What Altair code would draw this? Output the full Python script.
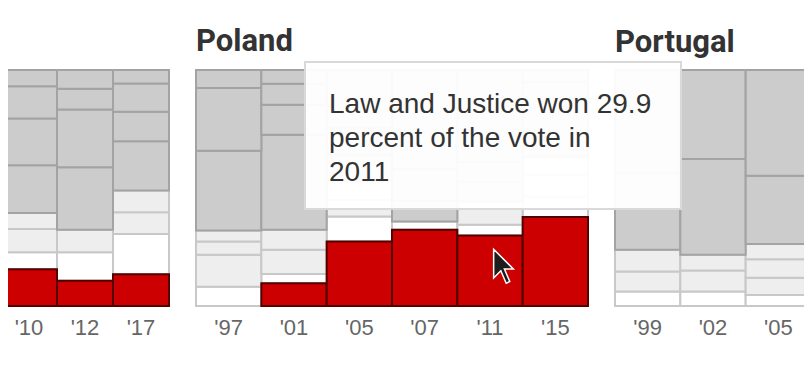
import altair as alt
import pandas as pd

# ---- data -----------------------------------------------------------------
kinds = ["populist", "others", "small", "large"]
kind_fill = ["#cc0000", "#ffffff", "#eeeeee", "#cccccc"]
kind_stroke = ["#520000", "#c8c8c8", "#c8c8c8", "#a3a3a3"]
draw_rank = {"others": 0, "small": 1, "large": 2, "populist": 3}

# Netherlands (panel cut off at the left edge, title not visible)
nl_years = ["'10", "'12", "'17"]
nl_kinds = [
    ["populist", "others", "small", "small", "large", "large", "large", "large"],
    ["populist", "others", "small", "large", "large", "large", "large"],
    ["populist", "others", "small", "small", "large", "large", "large", "large"],
]
nl_shares = [
    [15.6, 7.2, 9.8, 6.8, 20.2, 19.8, 13.7, 6.9],
    [10.7, 12.1, 9.5, 26.5, 24.5, 8.8, 7.9],
    [13.5, 17.0, 9.2, 9.2, 20.9, 12.5, 12.0, 5.7],
]

# Poland
pl_years = ["'97", "'01", "'05", "'07", "'11", "'15"]
pl_kinds = [
    ["others", "small", "small", "small", "large", "large", "large"],
    ["populist", "others", "small", "small", "large", "large", "large", "large"],
    ["populist", "others", "small", "small", "large", "large", "large"],
    ["populist", "others", "large", "large", "large"],
    ["populist", "others", "small", "large", "large", "large"],
    ["populist", "others", "small", "small", "large", "large"],
]
pl_shares = [
    [8.2, 13.5, 5.6, 4.7, 33.8, 26.6, 7.6],
    [9.6, 4.0, 10.2, 8.5, 40.3, 12.7, 8.9, 5.8],
    [27.3, 10.6, 7.0, 8.0, 11.3, 11.4, 24.4],
    [32.3, 3.5, 8.9, 13.2, 42.1],
    [29.9, 4.5, 10.0, 8.4, 8.2, 39.0],
    [37.7, 8.6, 9.3, 7.6, 31.6, 5.2],
]

# Portugal (panel cut off at the right edge)
pt_years = ["'99", "'02", "'05"]
pt_kinds = [
    ["others", "small", "small", "large", "large"],
    ["others", "small", "small", "large", "large"],
    ["others", "small", "small", "small", "large", "large"],
]
pt_shares = [
    [6.1, 8.5, 9.2, 32.6, 43.6],
    [6.1, 8.9, 6.7, 40.6, 37.7],
    [4.7, 7.3, 7.8, 6.5, 28.9, 44.8],
]

# hover note
note_party = "Law and Justice"
note_share = 29.9
note_year = 2011
note_lines = [f"{note_party} won {note_share}", "percent of the vote in", f"{note_year}"]

# ---- helpers -----------------------------------------------------------------
def build(years, kinds_list, shares_list):
    rows = []
    for yr, ks, ss in zip(years, kinds_list, shares_list):
        lo = 0.0
        for i, (k, s) in enumerate(zip(ks, ss)):
            rows.append(dict(year=yr, kind=k, share=s, lo=lo, hi=lo + s,
                             idx=i, rank=draw_rank[k]))
            lo += s
    return pd.DataFrame(rows).sort_values(["rank", "idx"], kind="stable")


x_axis = alt.Axis(title=None, labelAngle=0, domain=False, ticks=False, tickSize=0,
                  grid=False, labelPadding=11, labelFontSize=22,
                  labelFont="Liberation Sans", labelColor="#666666")


def bars(years, kinds_list, shares_list, width):
    df = build(years, kinds_list, shares_list)
    return alt.Chart(df).mark_bar(strokeWidth=2).encode(
        x=alt.X("year:N", sort=years,
                scale=alt.Scale(paddingInner=0, paddingOuter=0), axis=x_axis),
        y=alt.Y("lo:Q", scale=alt.Scale(domain=[0, 100], nice=False), axis=None),
        y2="hi:Q",
        fill=alt.Fill("kind:N", scale=alt.Scale(domain=kinds, range=kind_fill), legend=None),
        stroke=alt.Stroke("kind:N", scale=alt.Scale(domain=kinds, range=kind_stroke), legend=None),
    ).properties(width=width, height=236)


def title(text, offset):
    return alt.TitleParams(text, anchor="start", frame="group", fontSize=31,
                           font="Roboto", fontWeight="bold", color="#333333",
                           offset=offset)


one = pd.DataFrame({"k": [0]})

nl = bars(nl_years, nl_kinds, nl_shares, 168)

cursor_path = ("M-0.55,-0.95 L-0.55,0.65 L-0.15,0.25 L0.15,0.95 "
               "L0.35,0.85 L0.05,0.15 L0.55,0.15 Z")
cursor = alt.Chart(one).mark_point(
    shape=cursor_path, size=1282, filled=True, fill="#1c1c1c",
    stroke="#ffffff", strokeWidth=1.5, opacity=1
).encode(x=alt.value(307.5), y=alt.value(196.3))

pl = alt.layer(bars(pl_years, pl_kinds, pl_shares, 392), cursor).properties(
    title=title("Poland", 11))

box = alt.Chart(one).mark_rect(
    fill="#ffffff", fillOpacity=0.95, stroke="#d9d9d9", strokeWidth=2
).encode(x=alt.value(-310), x2=alt.value(66), y=alt.value(-8), y2=alt.value(139))

note = alt.Chart(one).mark_text(
    align="left", baseline="alphabetic", fontSize=28, font="Liberation Sans",
    color="#333333", lineHeight=34
).encode(x=alt.value(-286), y=alt.value(43), text=alt.value(note_lines))

pt = alt.layer(bars(pt_years, pt_kinds, pt_shares, 196), box, note).properties(
    title=title("Portugal", 2))

chart = alt.hconcat(nl, pl, pt, spacing=27, bounds="flush").resolve_scale(
    x="independent"
).properties(
    padding={"left": -8, "top": 17, "right": -8, "bottom": 0}
).configure_view(strokeWidth=0)

chart.save("out.html", embed_options={"renderer": "svg", "actions": False})
